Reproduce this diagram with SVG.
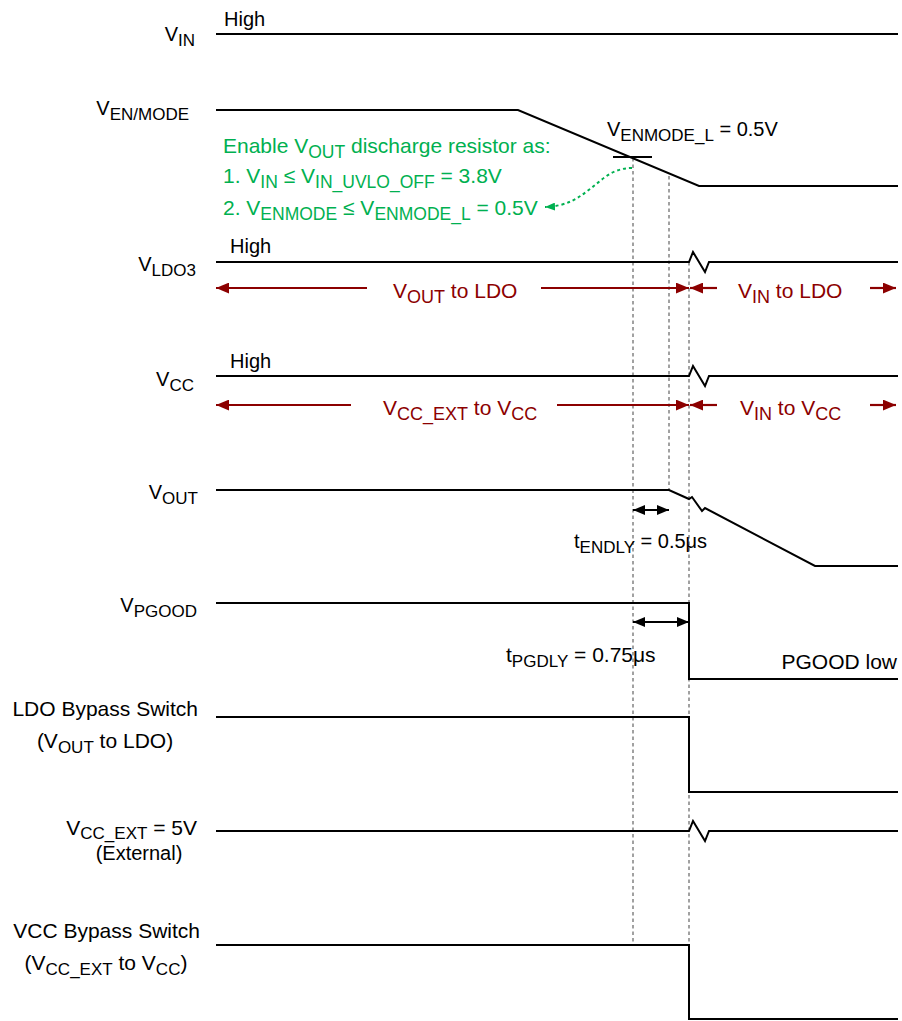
<svg xmlns="http://www.w3.org/2000/svg" width="902" height="1021" viewBox="0 0 902 1021">
<style>
text{font-family:"Liberation Sans",Arial,sans-serif;}
.lbl{font-size:20px;fill:#000;}
.big{font-size:21px;}
.sub{font-size:17px;}
.grn{font-size:21px;fill:#00B050;}
.gsub{font-size:17.5px;}
.red{font-size:21px;fill:#8C0000;}
.rsub{font-size:18px;}
.sig{fill:none;stroke:#000;stroke-width:2;stroke-linejoin:miter;}
.dash{fill:none;stroke:#8a8a8a;stroke-width:1.6;stroke-dasharray:3.5,3;}
.rar{fill:none;stroke:#8C0000;stroke-width:2.2;}
.bar{fill:none;stroke:#000;stroke-width:2;}
.gdot{fill:none;stroke:#00B050;stroke-width:2;stroke-dasharray:3,3;}
</style>
<defs>
<marker id="mr" viewBox="0 0 12 10" refX="12" refY="5" markerWidth="13" markerHeight="11" markerUnits="userSpaceOnUse" orient="auto-start-reverse"><path d="M0,0 L12,5 L0,10 z" fill="#8C0000"/></marker>
<marker id="mb" viewBox="0 0 12 10" refX="12" refY="5" markerWidth="12" markerHeight="10" markerUnits="userSpaceOnUse" orient="auto-start-reverse"><path d="M0,0 L12,5 L0,10 z" fill="#000"/></marker>
<marker id="mg" viewBox="0 0 10 8" refX="10" refY="4" markerWidth="10" markerHeight="8" markerUnits="userSpaceOnUse" orient="auto"><path d="M0,0 L10,4 L0,8 z" fill="#00B050"/></marker>
</defs>

<g id="guides">
<line class="dash" x1="633" y1="158" x2="633" y2="945"/>
<line class="dash" x1="669" y1="176" x2="669" y2="490"/>
<line class="dash" x1="689" y1="262" x2="689" y2="945"/>
</g>

<g id="vin">
<text class="lbl" x="195" y="41" text-anchor="end">V<tspan class="sub" dy="5">IN</tspan></text>
<text class="lbl" x="224" y="26">High</text>
<path class="sig" d="M216,34 H898"/>
</g>

<g id="venmode">
<text class="lbl" x="189" y="115" text-anchor="end">V<tspan class="sub" dy="5">EN/MODE</tspan></text>
<path class="sig" d="M216,110 H518 L699,186 H898"/>
<path class="sig" d="M613,157 H652"/>
<text class="lbl" x="607" y="136">V<tspan class="sub" dy="5">ENMODE_L</tspan><tspan dy="-5"> = 0.5V</tspan></text>
</g>

<g id="note">
<text class="grn" x="223" y="153">Enable V<tspan class="gsub" dy="5">OUT</tspan><tspan dy="-5"> discharge resistor as:</tspan></text>
<text class="grn" x="223" y="183">1. V<tspan class="gsub" dy="5">IN</tspan><tspan dy="-5"> ≤ V</tspan><tspan class="gsub" dy="5">IN_UVLO_OFF</tspan><tspan dy="-5"> = 3.8V</tspan></text>
<text class="grn" x="223" y="215">2. V<tspan class="gsub" dy="5">ENMODE</tspan><tspan dy="-5"> ≤ V</tspan><tspan class="gsub" dy="5">ENMODE_L</tspan><tspan dy="-5"> = 0.5V</tspan></text>
</g>

<g id="vldo3">
<text class="lbl" x="196" y="271" text-anchor="end">V<tspan class="sub" dy="5">LDO3</tspan></text>
<text class="lbl" x="230" y="253">High</text>
<path class="sig" d="M216,262 H689 L693,252 L705,272 L709,262 H898"/>
<text class="red" x="393" y="298">V<tspan class="rsub" dy="5">OUT</tspan><tspan dy="-5"> to LDO</tspan></text>
<text class="red" x="738" y="298">V<tspan class="rsub" dy="5">IN</tspan><tspan dy="-5"> to LDO</tspan></text>
</g>

<g id="vcc">
<text class="lbl" x="194" y="386" text-anchor="end">V<tspan class="sub" dy="5">CC</tspan></text>
<text class="lbl" x="230" y="368">High</text>
<path class="sig" d="M216,376 H689 L693,366 L705,386 L709,376 H898"/>
<text class="red" x="383" y="415">V<tspan class="rsub" dy="5">CC_EXT</tspan><tspan dy="-5"> to V</tspan><tspan class="rsub" dy="5">CC</tspan></text>
<text class="red" x="740" y="415">V<tspan class="rsub" dy="5">IN</tspan><tspan dy="-5"> to V</tspan><tspan class="rsub" dy="5">CC</tspan></text>
</g>

<g id="vout">
<text class="lbl" x="198" y="499" text-anchor="end">V<tspan class="sub" dy="5">OUT</tspan></text>
<path class="sig" d="M216,490 H669 L689,499 L692,497 L702,511 L705,508 L815,566 H898"/>
<text class="lbl" x="574" y="548">t<tspan class="sub" dy="5">ENDLY</tspan><tspan dy="-5"> = 0.5μs</tspan></text>
</g>

<g id="vpgood">
<text class="lbl" x="197" y="612" text-anchor="end">V<tspan class="sub" dy="5">PGOOD</tspan></text>
<path class="sig" d="M216,603 H689 V679 H898"/>
<text class="lbl big" x="506" y="662">t<tspan class="sub" dy="5">PGDLY</tspan><tspan dy="-5"> = 0.75μs</tspan></text>
<text class="lbl big" x="897" y="669" text-anchor="end">PGOOD low</text>
</g>

<g id="ldo-bypass">
<text class="lbl big" x="198" y="716" text-anchor="end">LDO Bypass Switch</text>
<text class="lbl big" x="105" y="748" text-anchor="middle">(V<tspan class="sub" dy="5">OUT</tspan><tspan dy="-5"> to LDO)</tspan></text>
<path class="sig" d="M216,717 H689 V792 H898"/>
</g>

<g id="vcc-ext">
<text class="lbl big" x="197" y="835" text-anchor="end">V<tspan class="sub" dy="4">CC_EXT</tspan><tspan dy="-4"> = 5V</tspan></text>
<text class="lbl" x="139" y="860" text-anchor="middle">(External)</text>
<path class="sig" d="M216,831 H689 L693,821 L705,841 L709,831 H898"/>
</g>

<g id="vcc-bypass">
<text class="lbl big" x="200" y="938" text-anchor="end">VCC Bypass Switch</text>
<text class="lbl big" x="106" y="970" text-anchor="middle">(V<tspan class="sub" dy="5">CC_EXT</tspan><tspan dy="-5"> to V</tspan><tspan class="sub" dy="5">CC</tspan><tspan dy="-5">)</tspan></text>
<path class="sig" d="M216,945 H689 V1019 H898"/>
</g>

<g id="connectors">
<path class="gdot" d="M632,168 C612,168 602,180 590,189 C578,198 568,206 545,207" marker-end="url(#mg)"/>
<line class="rar" x1="367" y1="288" x2="216" y2="288" marker-end="url(#mr)"/>
<line class="rar" x1="541" y1="288" x2="689" y2="288" marker-end="url(#mr)"/>
<line class="rar" x1="717" y1="288" x2="690" y2="288" marker-end="url(#mr)"/>
<line class="rar" x1="870" y1="288" x2="896" y2="288" marker-end="url(#mr)"/>
<line class="rar" x1="351" y1="405" x2="216" y2="405" marker-end="url(#mr)"/>
<line class="rar" x1="557" y1="405" x2="689" y2="405" marker-end="url(#mr)"/>
<line class="rar" x1="717" y1="405" x2="690" y2="405" marker-end="url(#mr)"/>
<line class="rar" x1="870" y1="405" x2="896" y2="405" marker-end="url(#mr)"/>
<line class="bar" x1="633" y1="510" x2="669" y2="510" marker-start="url(#mb)" marker-end="url(#mb)"/>
<line class="bar" x1="633" y1="622" x2="689" y2="622" marker-start="url(#mb)" marker-end="url(#mb)"/>
</g>
</svg>
